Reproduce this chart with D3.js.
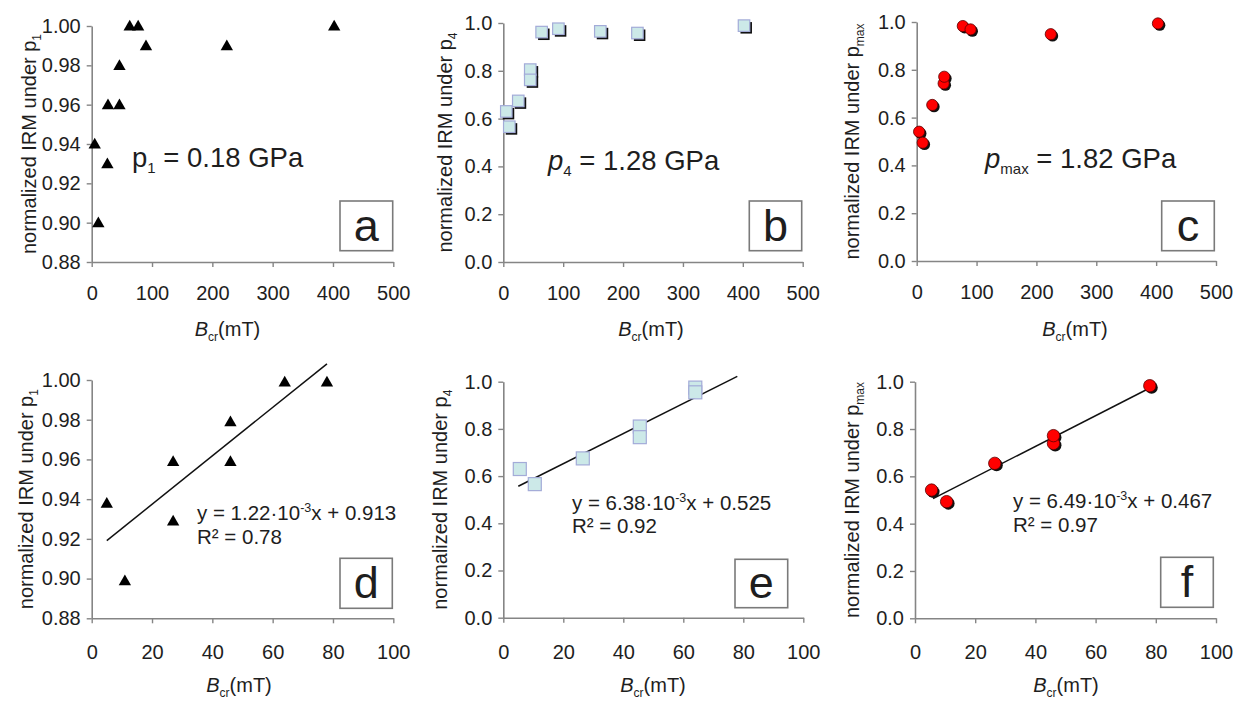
<!DOCTYPE html>
<html><head><meta charset="utf-8">
<script src="https://cdn.jsdelivr.net/npm/d3@7"></script>
<style>
body{margin:0;background:#fff;}
svg text{font-family:"Liberation Sans",Arial,sans-serif;fill:#1e1e1e;}
</style>
</head><body>
<svg id="chart" width="1243" height="701"></svg>
<script>
// ---------------- DATA ----------------
const aX = [5, 11, 26, 27, 46, 46, 63, 77, 90, 224, 402];
const aY = [0.94, 0.90, 0.93, 0.96, 0.96, 0.98, 1.00, 1.00, 0.99, 0.99, 1.00];
const bX = [5, 10, 25, 45, 45, 64, 92, 162, 224, 402];
const bY = [0.63, 0.566, 0.674, 0.805, 0.762, 0.962, 0.976, 0.965, 0.958, 0.989];
const cX = [4, 10, 26, 45, 46, 77, 90, 224, 403];
const cY = [0.541, 0.495, 0.653, 0.743, 0.771, 0.983, 0.969, 0.949, 0.994];
const dX = [5, 11, 27, 27, 46, 46, 64, 78];
const dY = [0.938, 0.899, 0.959, 0.929, 0.959, 0.979, 0.999, 0.999];
const eX = [5.5, 10.5, 26.5, 45.5, 45.5, 64, 64];
const eY = [0.63, 0.566, 0.675, 0.81, 0.765, 0.975, 0.955];
const fX = [5.5, 10.5, 26.5, 46, 46, 78];
const fY = [0.542, 0.493, 0.655, 0.739, 0.772, 0.983];

// linear fits (slope, intercept, x-start, x-end) for panels d, e, f
const fitSlope = [1.22e-3, 6.38e-3, 6.49e-3];
const fitIntercept = [0.913, 0.525, 0.467];
const fitStart = [5, 5, 6];
const fitEnd = [78, 78, 78];
const fitEquation = ["y = 1.22·10", "y = 6.38·10", "y = 6.49·10"];
const fitR2 = ["R² = 0.78", "R² = 0.92", "R² = 0.97"];

// ticks
const xTicksWide = [0, 100, 200, 300, 400, 500];
const xTicksNarrow = [0, 20, 40, 60, 80, 100];
const yTicksP1 = [0.88, 0.90, 0.92, 0.94, 0.96, 0.98, 1.00];
const yTicksUnit = [0.0, 0.2, 0.4, 0.6, 0.8, 1.0];

// labels
const panelLetters = ["a", "b", "c", "d", "e", "f"];
const pressureSub = ["1", "4", "max"];
const pressureValue = [" = 0.18 GPa", " = 1.28 GPa", " = 1.82 GPa"];

// ---------------- LAYOUT ----------------
const layout = {
  a: {x0: 91.7, x1: 393.3, y0: 26, y1: 262, ytx: 36, xtx: 227.5, xty: 336, pad: 19, box: [340, 201, 52.7, 49.7]},
  b: {x0: 503.3, x1: 802.7, y0: 23, y1: 262, ytx: 452, xtx: 651, xty: 336, pad: 19, box: [749.3, 201, 52.4, 49.7]},
  c: {x0: 916.7, x1: 1216, y0: 22, y1: 261, ytx: 859, xtx: 1075, xty: 336, pad: 19, box: [1161.7, 201, 52.6, 49.7]},
  d: {x0: 91.7, x1: 393.3, y0: 380, y1: 618.3, ytx: 33, xtx: 239, xty: 692, pad: 22, box: [340, 558.3, 52.3, 50]},
  e: {x0: 503.3, x1: 803.3, y0: 381.7, y1: 617.7, ytx: 447, xtx: 653, xty: 692, pad: 22, box: [735, 559.3, 52.7, 48.4]},
  f: {x0: 915, x1: 1216, y0: 381.7, y1: 618.3, ytx: 859, xtx: 1066, xty: 692, pad: 22, box: [1160.7, 557.3, 52.6, 50]}
};
const annot = [{x: 132, y: 167, it: false}, {x: 548, y: 170, it: true}, {x: 985, y: 168, it: true}];
const eqPos = [{x: 197, y: 520, y2: 544}, {x: 572, y: 510, y2: 533}, {x: 1013, y: 508, y2: 532}];

const panels = [
  {id: "a", xs: aX, ys: aY, mk: "tri", xd: [0, 500], yd: [0.88, 1.0], xt: xTicksWide, yt: yTicksP1, yf: ".2f", s: 0},
  {id: "b", xs: bX, ys: bY, mk: "sqS", xd: [0, 500], yd: [0, 1], xt: xTicksWide, yt: yTicksUnit, yf: ".1f", s: 1},
  {id: "c", xs: cX, ys: cY, mk: "cir", xd: [0, 500], yd: [0, 1], xt: xTicksWide, yt: yTicksUnit, yf: ".1f", s: 2},
  {id: "d", xs: dX, ys: dY, mk: "tri", xd: [0, 100], yd: [0.88, 1.0], xt: xTicksNarrow, yt: yTicksP1, yf: ".2f", s: 0, fit: 0},
  {id: "e", xs: eX, ys: eY, mk: "sq", xd: [0, 100], yd: [0, 1], xt: xTicksNarrow, yt: yTicksUnit, yf: ".1f", s: 1, fit: 1},
  {id: "f", xs: fX, ys: fY, mk: "cirB", xd: [0, 100], yd: [0, 1], xt: xTicksNarrow, yt: yTicksUnit, yf: ".1f", s: 2, fit: 2}
];

const svg = d3.select("#chart");
const AX = "#858585";

panels.forEach((p, i) => {
  const L = layout[p.id];
  const x = d3.scaleLinear().domain(p.xd).range([L.x0, L.x1]);
  const y = d3.scaleLinear().domain(p.yd).range([L.y1, L.y0]);
  const g = svg.append("g");

  // axes
  const gx = g.append("g").attr("transform", `translate(0,${L.y1})`)
    .call(d3.axisBottom(x).tickValues(p.xt).tickSize(5).tickSizeOuter(0).tickPadding(L.pad).tickFormat(d3.format("d")));
  const gy = g.append("g").attr("transform", `translate(${L.x0},0)`)
    .call(d3.axisLeft(y).tickValues(p.yt).tickSize(5).tickSizeOuter(0).tickPadding(6).tickFormat(d3.format(p.yf)));
  [gx, gy].forEach(a => {
    a.select(".domain").attr("stroke", AX).attr("stroke-width", 1.6);
    a.selectAll(".tick line").attr("stroke", AX).attr("stroke-width", 1.4);
    a.selectAll(".tick text").attr("font-size", 20).attr("fill", "#1e1e1e")
      .attr("font-family", "'Liberation Sans',Arial,sans-serif");
  });

  // y title
  const yt = g.append("text").attr("transform", `translate(${L.ytx},${(L.y0 + L.y1) / 2}) rotate(-90)`)
    .attr("text-anchor", "middle").attr("font-size", 20);
  yt.append("tspan").text("normalized IRM under p");
  yt.append("tspan").attr("font-size", 12).attr("dy", 5).text(pressureSub[p.s]);

  // x title
  const xt = g.append("text").attr("x", L.xtx).attr("y", L.xty).attr("text-anchor", "middle").attr("font-size", 20);
  xt.append("tspan").attr("font-style", "italic").text("B");
  xt.append("tspan").attr("font-size", 12).attr("dy", 5).text("cr");
  xt.append("tspan").attr("dy", -5).text("(mT)");

  // fit line
  if (p.fit !== undefined) {
    const k = p.fit;
    const pts = [fitStart[k], fitEnd[k]].map(v => [x(v), y(fitSlope[k] * v + fitIntercept[k])]);
    g.append("path").attr("d", d3.line()(pts)).attr("stroke", "#111").attr("stroke-width", 1.5).attr("fill", "none");
  }

  // markers
  const data = p.xs.map((v, j) => [v, p.ys[j]]);
  const mg = g.append("g");
  if (p.mk === "tri") {
    mg.selectAll("path").data(data).join("path")
      .attr("d", d3.symbol(d3.symbolTriangle, 66)())
      .attr("transform", d => `translate(${x(d[0])},${y(d[1]) + 1})`)
      .attr("fill", "#000");
  } else if (p.mk === "sqS" || p.mk === "sq") {
    const s = p.mk === "sqS" ? 11.5 : 13;
    if (p.mk === "sqS") {
      mg.selectAll("rect.sh").data(data).join("rect").attr("class", "sh")
        .attr("x", d => x(d[0]) - s / 2 + 2.2).attr("y", d => y(d[1]) - s / 2 + 2.2)
        .attr("width", s).attr("height", s).attr("fill", "#111");
    }
    mg.selectAll("rect.fc").data(data).join("rect").attr("class", "fc")
      .attr("x", d => x(d[0]) - s / 2).attr("y", d => y(d[1]) - s / 2)
      .attr("width", s).attr("height", s)
      .attr("fill", "#cce9e8").attr("stroke", "#a3abd8").attr("stroke-width", 1.2);
  } else {
    const r = p.mk === "cir" ? 5.6 : 6.2;
    mg.selectAll("circle.sh").data(data).join("circle").attr("class", "sh")
      .attr("cx", d => x(d[0]) + 1.8).attr("cy", d => y(d[1]) + 1.8).attr("r", r).attr("fill", "#111");
    mg.selectAll("circle.fc").data(data).join("circle").attr("class", "fc")
      .attr("cx", d => x(d[0])).attr("cy", d => y(d[1])).attr("r", r)
      .attr("fill", "#f00").attr("stroke", "#5a0000").attr("stroke-width", 0.8);
  }

  // pressure annotation (top row)
  if (i < 3) {
    const A = annot[i];
    const t = g.append("text").attr("x", A.x).attr("y", A.y).attr("font-size", 27.5);
    t.append("tspan").attr("font-style", A.it ? "italic" : "normal").text("p");
    t.append("tspan").attr("font-size", 15).attr("dy", 6).text(pressureSub[i]);
    t.append("tspan").attr("dy", -6).text(pressureValue[i]);
  }

  // equation (bottom row)
  if (p.fit !== undefined) {
    const k = p.fit, E = eqPos[k];
    const t = g.append("text").attr("x", E.x).attr("y", E.y).attr("font-size", 20.5);
    t.append("tspan").text(fitEquation[k]);
    t.append("tspan").attr("font-size", 12.5).attr("dy", -8).text("-3");
    t.append("tspan").attr("dy", 8).text("x + " + fitIntercept[k].toFixed(3));
    g.append("text").attr("x", E.x).attr("y", E.y2).attr("font-size", 20.5).text(fitR2[k]);
  }

  // letter box
  const [bx, by, bw, bh] = L.box;
  g.append("rect").attr("x", bx).attr("y", by).attr("width", bw).attr("height", bh)
    .attr("fill", "#fff").attr("stroke", "#7a7a7a").attr("stroke-width", 1.6);
  g.append("text").attr("x", bx + bw / 2).attr("y", by + bh - 10).attr("text-anchor", "middle")
    .attr("font-size", 45).attr("fill", "#000").text(panelLetters[i]);
});
</script>
</body></html>
